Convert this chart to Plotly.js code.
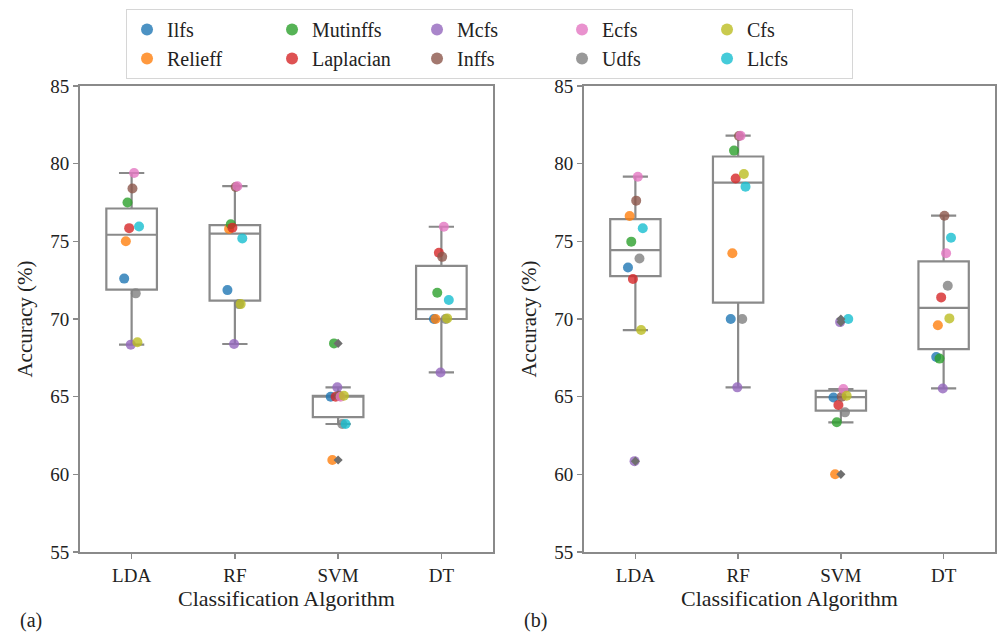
<!DOCTYPE html>
<html>
<head>
<meta charset="utf-8">
<script src="https://cdn.plot.ly/plotly-3.0.1.min.js"></script>
<style>html,body{margin:0;padding:0;background:#fff}#chart{width:998px;height:632px}</style>
</head>
<body>
<div id="chart"></div>
<script>
// Categories (classification algorithms) and feature-selection methods
const categories = ['LDA', 'RF', 'SVM', 'DT'];
const methods = ['Ilfs', 'Relieff', 'Mutinffs', 'Laplacian', 'Mcfs', 'Inffs', 'Ecfs', 'Udfs', 'Cfs', 'Llcfs'];
const colors = ['#1f77b4', '#ff7f0e', '#2ca02c', '#d62728', '#9467bd', '#8c564b', '#e377c2', '#7f7f7f', '#bcbd22', '#17becf'];
const legendOrder = [1, 6, 2, 7, 3, 8, 4, 9, 5, 10];

// Panel (a): accuracy (%) per method for LDA, RF, SVM, DT
const ilfsA      = [72.6, 71.86, 65.0, 70.0];
const relieffA   = [75.0, 75.8, 60.92, 70.0];
const mutinffsA  = [77.5, 76.1, 68.43, 71.69];
const laplacianA = [75.85, 75.88, 65.0, 74.27];
const mcfsA      = [68.35, 68.39, 65.6, 66.56];
const inffsA     = [78.4, 78.5, 65.06, 74.0];
const ecfsA      = [79.4, 78.55, 65.0, 75.94];
const udfsA      = [71.65, 70.96, 63.24, 70.0];
const cfsA       = [68.5, 70.96, 65.06, 70.04];
const llcfsA     = [75.95, 75.19, 63.24, 71.22];

// Panel (b)
const ilfsB      = [73.32, 70.0, 64.95, 67.55];
const relieffB   = [76.63, 74.23, 60.0, 69.6];
const mutinffsB  = [74.98, 80.84, 63.35, 67.45];
const laplacianB = [72.57, 79.05, 64.46, 71.39];
const mcfsB      = [60.85, 65.6, 69.8, 65.53];
const inffsB     = [77.62, 81.78, 65.0, 76.65];
const ecfsB      = [79.16, 81.8, 65.49, 74.23];
const udfsB      = [73.9, 70.0, 63.99, 72.14];
const cfsB       = [69.29, 79.33, 65.06, 70.04];
const llcfsB     = [75.84, 78.52, 70.0, 75.23];

const panelA = [ilfsA, relieffA, mutinffsA, laplacianA, mcfsA, inffsA, ecfsA, udfsA, cfsA, llcfsA];
const panelB = [ilfsB, relieffB, mutinffsB, laplacianB, mcfsB, inffsB, ecfsB, udfsB, cfsB, llcfsB];

const FONT = 'Liberation Serif';
const GRAY = '#8a8a8a';
const TXT = '#222';

// numpy-style (linear) percentile
function pct(sorted, p) {
  const pos = p * (sorted.length - 1), lo = Math.floor(pos), hi = Math.ceil(pos);
  return sorted[lo] + (pos - lo) * (sorted[hi] - sorted[lo]);
}

// Box statistics (seaborn/matplotlib rules) + fliers, computed from the data arrays
function boxStats(panel) {
  const st = {q1: [], med: [], q3: [], lo: [], hi: [], fx: [], fy: []};
  categories.forEach((c, j) => {
    const v = panel.map(a => a[j]).sort((a, b) => a - b);
    const q1 = pct(v, 0.25), q3 = pct(v, 0.75), iqr = q3 - q1;
    const inside = v.filter(x => x >= q1 - 1.5 * iqr && x <= q3 + 1.5 * iqr);
    st.q1.push(q1); st.med.push(pct(v, 0.5)); st.q3.push(q3);
    st.lo.push(inside[0]); st.hi.push(inside[inside.length - 1]);
    v.filter(x => x < q1 - 1.5 * iqr || x > q3 + 1.5 * iqr).forEach(x => { st.fx.push(c); st.fy.push(x); });
  });
  return st;
}

const traces = [];
[[panelA, 'x', 'y', 'x3'], [panelB, 'x2', 'y2', 'x4']].forEach(([panel, xa, ya, xf]) => {
  const s = boxStats(panel);
  traces.push({
    type: 'box', x: categories, q1: s.q1, median: s.med, q3: s.q3,
    lowerfence: s.lo, upperfence: s.hi, xaxis: xa, yaxis: ya,
    fillcolor: '#ffffff', line: {color: GRAY, width: 2.2}, whiskerwidth: 0.5,
    boxpoints: false, showlegend: false, hoverinfo: 'skip'
  });
  traces.push({
    type: 'scatter', mode: 'markers', x: s.fx, y: s.fy, xaxis: xf, yaxis: ya,
    marker: {symbol: 'diamond', size: 7, color: '#6f6f6f'}, showlegend: false, hoverinfo: 'skip'
  });
});
[[panelA, 'x', 'y', true], [panelB, 'x2', 'y2', false]].forEach(([panel, xa, ya, show]) => {
  panel.forEach((vals, i) => {
    traces.push({
      type: 'scatter', mode: 'markers', x: categories, y: vals, xaxis: xa, yaxis: ya,
      name: methods[i], showlegend: show, legendrank: legendOrder[i],
      marker: {color: colors[i], size: 10, opacity: 0.8}
    });
  });
});

const W = 998, H = 632;
function xaxis(dom, anchor) {
  return {
    domain: dom, anchor: anchor, type: 'category', categoryorder: 'array', categoryarray: categories,
    range: [-0.5, 3.5], showline: true, mirror: true, linecolor: GRAY, linewidth: 2,
    ticks: 'outside', ticklen: 5, tickwidth: 1.5, tickcolor: GRAY,
    tickfont: {family: FONT, size: 19, color: TXT}, showgrid: false, zeroline: false,
    automargin: false,
    title: {text: 'Classification Algorithm', font: {family: FONT, size: 22, color: TXT}, standoff: 6}
  };
}
function overlayX(over) {
  return {overlaying: over, type: 'category', categoryorder: 'array', categoryarray: categories,
          range: [-0.5, 3.5], visible: false, showgrid: false, zeroline: false};
}
function yaxis(anchor) {
  return {
    domain: [(H - 552) / H, (H - 86) / H], anchor: anchor, range: [55, 85], dtick: 5,
    showline: true, mirror: true, linecolor: GRAY, linewidth: 2,
    ticks: 'outside', ticklen: 5, tickwidth: 1.5, tickcolor: GRAY,
    tickfont: {family: FONT, size: 19, color: TXT}, showgrid: false, zeroline: false,
    automargin: false,
    title: {text: 'Accuracy (%)', font: {family: FONT, size: 21, color: TXT}, standoff: 12}
  };
}

const layout = {
  width: W, height: H, margin: {l: 0, r: 0, t: 0, b: 0},
  paper_bgcolor: '#fff', plot_bgcolor: '#fff',
  font: {family: FONT, color: TXT},
  scattermode: 'group', scattergap: 0.84,
  xaxis: xaxis([80 / W, 493 / W], 'y'),
  yaxis: yaxis('x'),
  xaxis2: xaxis([584 / W, 995 / W], 'y2'),
  yaxis2: yaxis('x2'),
  xaxis3: overlayX('x'),
  xaxis4: overlayX('x2'),
  legend: {
    orientation: 'h', x: 160 / W, y: (H - 9) / H, xanchor: 'left', yanchor: 'top',
    entrywidth: 100, entrywidthmode: 'pixels', tracegroupgap: 0,
    font: {family: FONT, size: 20, color: TXT},
    bordercolor: '#d6d6d6', borderwidth: 1, bgcolor: '#fff', itemsizing: 'constant'
  },
  annotations: [
    {text: '(a)', x: 18 / W, y: (H - 620) / H, xref: 'paper', yref: 'paper', showarrow: false,
     xanchor: 'left', yanchor: 'middle', font: {family: FONT, size: 20, color: TXT}},
    {text: '(b)', x: 522 / W, y: (H - 620) / H, xref: 'paper', yref: 'paper', showarrow: false,
     xanchor: 'left', yanchor: 'middle', font: {family: FONT, size: 20, color: TXT}}
  ],
  showlegend: true
};

Plotly.newPlot('chart', traces, layout, {displayModeBar: false, staticPlot: true});
</script>
</body>
</html>
